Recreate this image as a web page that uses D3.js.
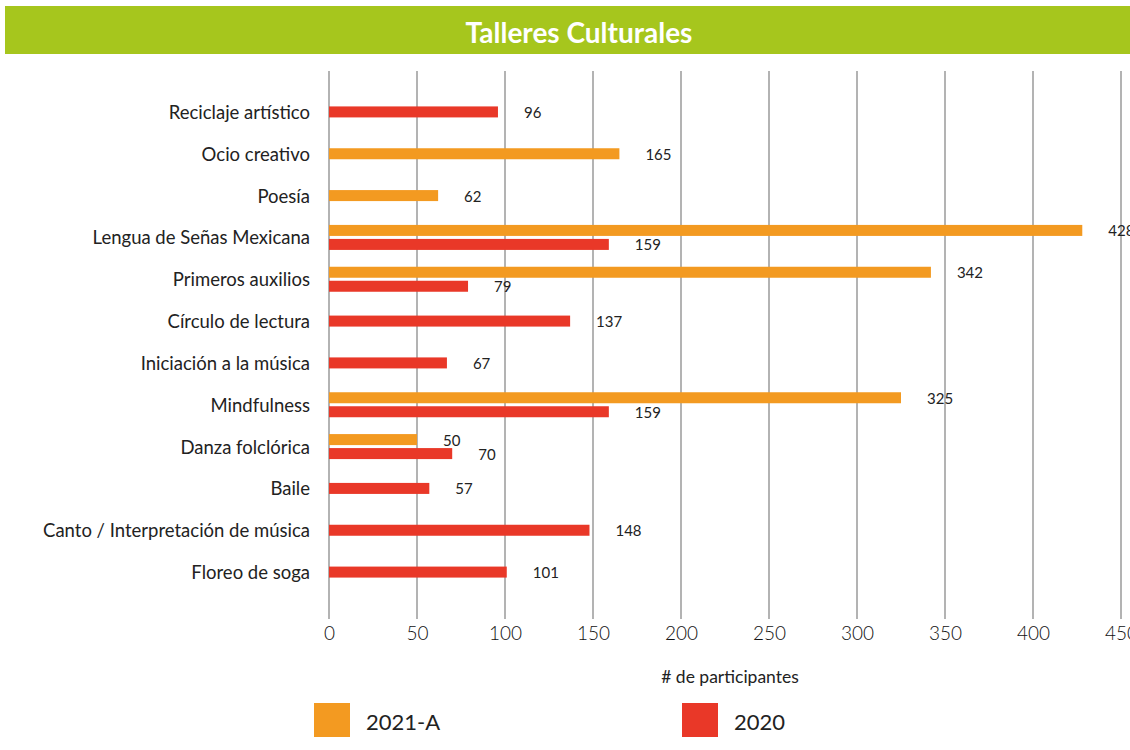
<!DOCTYPE html>
<html>
<head>
<meta charset="utf-8">
<script src="https://cdn.jsdelivr.net/npm/d3@7"></script>
<style>
  body { margin: 0; background: #fff; }
  svg { display: block; font-family: Lato, "Noto Sans", sans-serif; }
</style>
</head>
<body>
<div id="chart"></div>
<script>
// data
let categories = [
  "Reciclaje artístico",
  "Ocio creativo",
  "Poesía",
  "Lengua de Señas Mexicana",
  "Primeros auxilios",
  "Círculo de lectura",
  "Iniciación a la música",
  "Mindfulness",
  "Danza folclórica",
  "Baile",
  "Canto / Interpretación de música",
  "Floreo de soga"
];
let values_2021a = [null, 165, 62, 428, 342, null, null, 325, 50, null, null, null];
let values_2020 = [96, null, null, 159, 79, 137, 67, 159, 70, 57, 148, 101];
let series = ["2021-A", "2020"];
let x_ticks = [0, 50, 100, 150, 200, 250, 300, 350, 400, 450];

let width = 1130;
let height = 750;

let colors = { "2021-A": "#F39A21", "2020": "#E93828" };

let x = d3.scaleLinear().domain([0, 450]).range([329, 1121]);
let y = d3.scaleBand().domain(categories).range([91, 593]);

let svg = d3.select("#chart")
  .append("svg")
  .attr("width", width)
  .attr("height", height);

// title band
svg.append("rect")
  .attr("x", 5).attr("y", 6)
  .attr("width", width - 5).attr("height", 48)
  .attr("fill", "#A6C61D");

svg.append("text")
  .attr("x", 579).attr("y", 32)
  .attr("text-anchor", "middle")
  .attr("dominant-baseline", "central")
  .attr("fill", "#fff")
  .attr("font-weight", "bold")
  .attr("font-size", 28)
  .text("Talleres Culturales");

// grid lines
let grid_top = 71, grid_bottom = 619;
svg.append("g")
  .selectAll("line")
  .data(x_ticks)
  .enter()
  .append("line")
  .attr("x1", d => x(d)).attr("x2", d => x(d))
  .attr("y1", grid_top).attr("y2", grid_bottom)
  .attr("stroke", "#9a9a9a")
  .attr("stroke-width", 1.5);

// x axis labels
svg.append("g")
  .attr("transform", "translate(0," + 626 + ")")
  .call(d3.axisBottom(x).tickValues(x_ticks).tickSize(0).tickPadding(0))
  .call(g => g.select(".domain").remove())
  .call(g => g.selectAll("text")
    .attr("font-size", 19)
    .attr("font-family", "Lato, sans-serif")
    .attr("font-weight", 300)
    .attr("fill", "#111"));

svg.append("text")
  .attr("x", 730).attr("y", 683)
  .attr("text-anchor", "middle")
  .attr("font-size", 17.5)
  .attr("fill", "#222")
  .text("# de participantes");

// category labels
svg.append("g")
  .selectAll("text")
  .data(categories)
  .enter()
  .append("text")
  .attr("x", 310)
  .attr("y", d => y(d) + y.bandwidth() / 2)
  .attr("text-anchor", "end")
  .attr("dominant-baseline", "central")
  .attr("font-size", 18.5)
  .attr("fill", "#222")
  .text(d => d);

// bars
let bar_h = 11, bar_gap = 3;
let bars = [];
categories.forEach((c, i) => {
  let both = values_2021a[i] != null && values_2020[i] != null;
  let mid = y(c) + y.bandwidth() / 2;
  if (values_2021a[i] != null) {
    bars.push({ cat: c, s: "2021-A", v: values_2021a[i],
      top: both ? mid - bar_gap / 2 - bar_h : mid - bar_h / 2 });
  }
  if (values_2020[i] != null) {
    bars.push({ cat: c, s: "2020", v: values_2020[i],
      top: both ? mid + bar_gap / 2 : mid - bar_h / 2 });
  }
});

svg.append("g")
  .selectAll("rect")
  .data(bars)
  .enter()
  .append("rect")
  .attr("x", x(0))
  .attr("y", d => d.top)
  .attr("width", d => x(d.v) - x(0))
  .attr("height", bar_h)
  .attr("fill", d => colors[d.s]);

svg.append("g")
  .selectAll("text")
  .data(bars)
  .enter()
  .append("text")
  .attr("x", d => x(d.v) + 26)
  .attr("y", d => d.top + bar_h / 2)
  .attr("dominant-baseline", "central")
  .attr("font-size", 15)
  .attr("fill", "#222")
  .text(d => d.v);

// legend
let legend_x = [314, 682];
let legend = svg.append("g")
  .selectAll("g")
  .data(series)
  .enter()
  .append("g")
  .attr("transform", (d, i) => "translate(" + legend_x[i] + ",703)");

legend.append("rect")
  .attr("width", 36).attr("height", 34)
  .attr("fill", d => colors[d]);

legend.append("text")
  .attr("x", 52).attr("y", 18)
  .attr("dominant-baseline", "central")
  .attr("font-size", 22)
  .attr("fill", "#222")
  .text(d => d);
</script>
</body>
</html>
